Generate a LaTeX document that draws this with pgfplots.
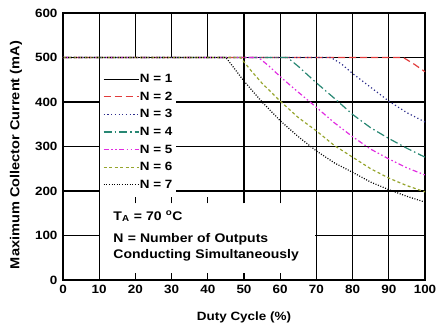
\documentclass[border=0pt]{standalone}
\usepackage{fontspec}
\setmainfont[FakeStretch=1.12]{Liberation Sans}
\usepackage{pgfplots}
\pgfplotsset{compat=1.18}

\definecolor{ntwo}{RGB}{225,60,60}
\definecolor{nthree}{RGB}{45,45,140}
\definecolor{nfour}{RGB}{40,135,115}
\definecolor{nfive}{RGB}{225,45,225}
\definecolor{nsix}{RGB}{150,165,45}
\tikzset{vgrid/.style={black, line width=1.1pt}}

\begin{document}
\begin{tikzpicture}
\begin{axis}[
  scale only axis, width=362pt, height=267pt,
  xmin=0, xmax=100, ymin=0, ymax=600,
  xtick={0,10,...,100}, ytick={0,100,...,600},
  major tick length=0pt,
  ymajorgrids, major grid style={black, line width=1.1pt},
  axis line style={black, line width=1.2pt},
  tick label style={font=\fontsize{12}{14}\selectfont\bfseries},
  /pgf/number format/assume math mode=true,
  xticklabel style={yshift=-2pt},
  yticklabel style={xshift=-2pt},
  xlabel={Duty Cycle (\%)}, ylabel={Maximum Collector Current (mA)},
  xlabel style={font=\fontsize{12}{14}\selectfont\bfseries, at={(axis description cs:0.5,-0.14)}, anchor=center},
  ylabel style={font=\fontsize{13}{15}\selectfont\bfseries, at={(axis description cs:-0.13,0.468)}, anchor=center},
  clip=false,
  legend cell align=left,
  legend image code/.code={\draw[#1] (0pt,0pt) -- (35pt,0pt);},
  legend style={draw=none, fill=white, at={(rel axis cs:0.102,0.794)}, anchor=north west,
    font=\fontsize{12}{14}\selectfont\bfseries, inner xsep=3pt, inner ysep=5pt, row sep=5.6pt,
    nodes={inner sep=0.5pt, text height=9pt, text depth=2pt}},
  every axis plot/.append style={line width=1.2pt},
]
% vertical grid, partly hidden behind legend and note
\draw[vgrid] (axis cs:10,0) -- (axis cs:10,600);
\draw[vgrid] (axis cs:70,0) -- (axis cs:70,600);
\draw[vgrid] (axis cs:80,0) -- (axis cs:80,600);
\draw[vgrid] (axis cs:90,0) -- (axis cs:90,600);
\draw[vgrid] (axis cs:20,500) -- (axis cs:20,600);
\draw[vgrid] (axis cs:30,500) -- (axis cs:30,600);
\draw[vgrid] (axis cs:40,500) -- (axis cs:40,600);
\draw[vgrid] (axis cs:20,172) -- (axis cs:20,187);
\draw[vgrid] (axis cs:30,172) -- (axis cs:30,187);
\draw[vgrid] (axis cs:40,172) -- (axis cs:40,187);
\draw[vgrid] (axis cs:50,172) -- (axis cs:50,600);
\draw[vgrid] (axis cs:60,172) -- (axis cs:60,600);
\draw[vgrid] (axis cs:20,0) -- (axis cs:20,16);
\draw[vgrid] (axis cs:30,0) -- (axis cs:30,16);
\draw[vgrid] (axis cs:40,0) -- (axis cs:40,16);
\draw[vgrid] (axis cs:50,0) -- (axis cs:50,16);
\draw[vgrid] (axis cs:60,0) -- (axis cs:60,16);

\addplot[black, solid] coordinates {(0,500) (100,500)};
\addlegendentry{N = 1}
\addplot[ntwo, dash pattern=on 7pt off 4pt] coordinates {(0,500) (94,500) (97,485) (100,468)};
\addlegendentry{N = 2}
\addplot[nthree, dash pattern=on 1.2pt off 2.5pt] coordinates {(0,500) (74,500) (77,485) (80,464) (85,433) (90,402) (95,376) (100,355)};
\addlegendentry{N = 3}
\addplot[nfour, dash pattern=on 8pt off 3pt on 1.5pt off 3pt] coordinates {(0,500) (62,500) (65,480) (70,443) (75,408) (80,372) (85,342) (90,318) (95,296) (100,276)};
\addlegendentry{N = 4}
\addplot[nfive, dash pattern=on 5pt off 2.5pt on 1.5pt off 2.5pt on 1.5pt off 2.5pt] coordinates {(0,500) (54,500) (57,480) (60,457) (65,422) (70,388) (75,353) (80,322) (85,294) (90,272) (95,252) (100,236)};
\addlegendentry{N = 5}
\addplot[nsix, dash pattern=on 3pt off 2.5pt] coordinates {(0,500) (49,500) (52,470) (55,442) (60,402) (65,365) (70,335) (75,302) (80,276) (85,250) (90,229) (95,212) (100,198)};
\addlegendentry{N = 6}
\addplot[black, dash pattern=on 1pt off 1.6pt] coordinates {(0,500) (45,500) (50,447) (55,400) (60,358) (65,322) (70,290) (75,263) (80,242) (85,220) (90,203) (95,188) (100,175)};
\addlegendentry{N = 7}

\node[fill=white, anchor=north west, inner xsep=13pt, inner ysep=6pt, text width=189pt, align=left,
  font=\fontsize{12.5}{16}\selectfont\bfseries] at (axis cs:10.3,169)
  {T\textsubscript{A} = 70 \textsuperscript{o}C\\[6pt] N = Number of Outputs\\ Conducting Simultaneously};
\end{axis}
\pgfresetboundingbox
\path[use as bounding box] ([shift={(-63pt,-50pt)}]current axis.south west) rectangle ([shift={(14pt,13pt)}]current axis.north east);
\end{tikzpicture}
\end{document}
